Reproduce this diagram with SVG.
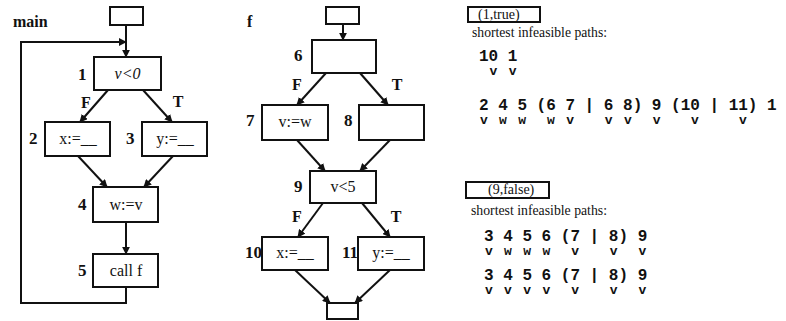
<svg xmlns="http://www.w3.org/2000/svg" width="786" height="321" viewBox="0 0 786 321">
<style>
.box{fill:#fff;stroke:#111;stroke-width:2}
.edge{stroke:#111;stroke-width:2;fill:none;marker-end:url(#ah)}
.lbl{font-family:"Liberation Serif",serif;font-weight:bold;font-size:17px;fill:#111}
.ft{font-family:"Liberation Serif",serif;font-weight:bold;font-size:16px;fill:#111;text-anchor:middle}
.code{font-family:"Liberation Serif",serif;font-size:16px;fill:#111;text-anchor:middle}
.hdr{font-family:"Liberation Serif",serif;font-size:14px;fill:#111}
.mono{font-family:"Liberation Mono",monospace;font-weight:bold;font-size:16px;fill:#111;white-space:pre}
.mark{font-family:"Liberation Mono",monospace;font-weight:bold;font-size:13px;fill:#111;text-anchor:middle}
</style>
<defs>
<marker id="ah" viewBox="0 0 10 10" refX="9" refY="5" markerWidth="4" markerHeight="4" orient="auto" markerUnits="strokeWidth">
<path d="M0,0 L10,5 L0,10 z" fill="#111"/>
</marker>
</defs>

<g id="connectors">
<line class="edge" x1="126" y1="25" x2="126" y2="57"/>
<path class="edge" d="M126,287 V303 H21 V42 H126"/>
<line class="edge" x1="108" y1="90" x2="80" y2="122"/>
<line class="edge" x1="143" y1="90" x2="172" y2="122"/>
<line class="edge" x1="78" y1="156" x2="107" y2="187"/>
<line class="edge" x1="173" y1="156" x2="144" y2="187"/>
<line class="edge" x1="126" y1="222" x2="126" y2="254"/>
<line class="edge" x1="343" y1="24" x2="343" y2="40"/>
<line class="edge" x1="326" y1="73" x2="297" y2="105"/>
<line class="edge" x1="360" y1="73" x2="388" y2="105"/>
<line class="edge" x1="297" y1="140" x2="325" y2="171"/>
<line class="edge" x1="390" y1="140" x2="360" y2="171"/>
<line class="edge" x1="323" y1="203" x2="298" y2="237"/>
<line class="edge" x1="362" y1="203" x2="390" y2="237"/>
<line class="edge" x1="295" y1="270" x2="330" y2="303"/>
<line class="edge" x1="390" y1="270" x2="355" y2="303"/>
<text class="ft" x="86" y="108">F</text>
<text class="ft" x="178" y="107">T</text>
<text class="ft" x="297" y="90">F</text>
<text class="ft" x="397" y="90">T</text>
<text class="ft" x="297" y="222">F</text>
<text class="ft" x="396" y="222">T</text>
</g>

<g id="main-title"><text class="lbl" x="13" y="27" style="font-size:16px">main</text></g>
<g id="main-entry"><rect class="box" x="110" y="7" width="33" height="18"/></g>
<g id="n1"><rect class="box" x="94" y="57" width="67" height="33"/><text class="lbl" x="78" y="80">1</text><text class="code" x="127.5" y="79" font-style="italic">v&lt;0</text></g>
<g id="n2"><rect class="box" x="45" y="122" width="65" height="34"/><text class="lbl" x="29" y="144">2</text><text class="code" x="78" y="144">x:=__</text></g>
<g id="n3"><rect class="box" x="142" y="122" width="65" height="34"/><text class="lbl" x="126" y="144">3</text><text class="code" x="175" y="144">y:=__</text></g>
<g id="n4"><rect class="box" x="93" y="187" width="65" height="35"/><text class="lbl" x="78" y="210">4</text><text class="code" x="126" y="210">w:=v</text></g>
<g id="n5"><rect class="box" x="93" y="254" width="65" height="33"/><text class="lbl" x="78" y="276">5</text><text class="code" x="126" y="276">call f</text></g>

<g id="f-title"><text class="lbl" x="247" y="27" style="font-size:16px">f</text></g>
<g id="f-entry"><rect class="box" x="326" y="7" width="33" height="17"/></g>
<g id="n6"><rect class="box" x="312" y="40" width="64" height="33"/><text class="lbl" x="294" y="61">6</text></g>
<g id="n7"><rect class="box" x="262" y="105" width="66" height="35"/><text class="lbl" x="246" y="126">7</text><text class="code" x="295" y="127">v:=w</text></g>
<g id="n8"><rect class="box" x="359" y="105" width="65" height="35"/><text class="lbl" x="344" y="126">8</text></g>
<g id="n9"><rect class="box" x="310" y="171" width="66" height="32"/><text class="lbl" x="294" y="192">9</text><text class="code" x="343" y="192">v&lt;5</text></g>
<g id="n10"><rect class="box" x="262" y="237" width="66" height="33"/><text class="lbl" x="262" y="258" text-anchor="end">10</text><text class="code" x="295" y="258">x:=__</text></g>
<g id="n11"><rect class="box" x="358" y="237" width="66" height="33"/><text class="lbl" x="358" y="258" text-anchor="end">11</text><text class="code" x="391" y="258">y:=__</text></g>
<g id="f-exit"><rect class="box" x="327" y="303" width="31" height="16"/></g>

<g id="result1">
<rect class="box" x="468" y="7" width="72" height="15"/>
<text class="hdr" x="478" y="19">(1,true)</text>
<text class="hdr" x="472" y="37" textLength="135" lengthAdjust="spacingAndGlyphs">shortest infeasible paths:</text>
<text class="mono" x="479" y="61" xml:space="preserve">10 1</text>
<text class="mark" x="493.4 512.6" y="75">vv</text>
<text class="mono" x="479" y="110" xml:space="preserve">2 4 5 (6 7 | 6 8) 9 (10 | 11) 1</text>
<text class="mark" x="483.8 503 522.2 551 570.2 608.6 627.8 656.6 695 743" y="124">vwwwvvvvvv</text>
</g>

<g id="result2">
<rect class="box" x="466" y="182" width="83" height="16"/>
<text class="hdr" x="488" y="194">(9,false)</text>
<text class="hdr" x="471" y="215" textLength="136" lengthAdjust="spacingAndGlyphs">shortest infeasible paths:</text>
<text class="mono" x="484" y="241" xml:space="preserve">3 4 5 6 (7 | 8) 9</text>
<text class="mark" x="488.8 508 527.2 546.4 575.2 613.6 642.4" y="255">vwwwvvv</text>
<text class="mono" x="484" y="280" xml:space="preserve">3 4 5 6 (7 | 8) 9</text>
<text class="mark" x="488.8 508 527.2 546.4 575.2 613.6 642.4" y="294">vvvvvvv</text>
</g>
</svg>
